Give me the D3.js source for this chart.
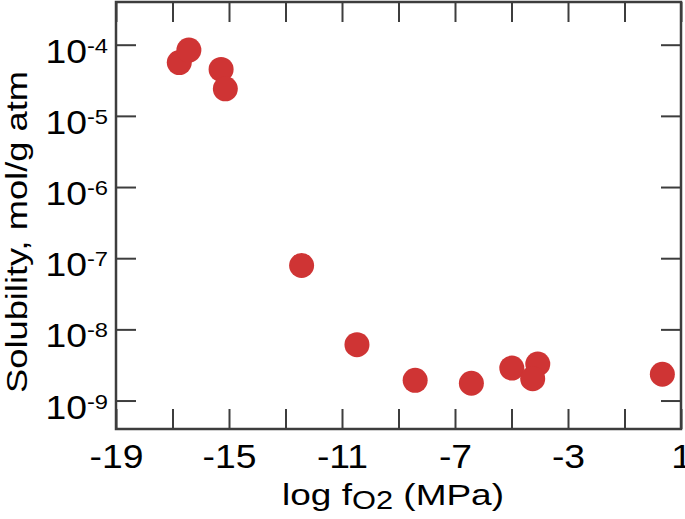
<!DOCTYPE html>
<html>
<head>
<meta charset="utf-8">
<script src="https://cdn.jsdelivr.net/npm/d3@7"></script>
<style>
  html, body { margin: 0; padding: 0; background: #fff; }
  svg { display: block; font-family: "Liberation Sans", Arial, Helvetica, sans-serif; }
</style>
</head>
<body>
<svg id="chart" width="685" height="519"></svg>
<script>
// log fO2 (MPa) vs solubility (mol/g atm)
const logFO2 = [-16.76, -16.42, -15.28, -15.13, -12.43, -10.47, -8.41, -6.42, -4.99, -4.07, -4.25, 0.34];
const solubility = [5.6e-5, 8.4e-5, 4.5e-5, 2.4e-5, 7.9e-8, 6.1e-9, 1.92e-9, 1.75e-9, 2.86e-9, 3.26e-9, 2.03e-9, 2.34e-9];

const xTicks = [-19, -17, -15, -13, -11, -9, -7, -5, -3, -1, 1];
const xTickLabels = ['-19', '-15', '-11', '-7', '-3', '1'];
const yExponents = [-9, -8, -7, -6, -5, -4];

const svg = d3.select('#chart');
const frameColor = '#3d3d3d';
const dotColor = '#cf3434';

const x = d3.scaleLinear().domain([-19, 1]).range([116, 681]);
const y = d3.scaleLog().domain([Math.pow(10, -9.4), Math.pow(10, -3.4)]).range([429, 2]);
const yTicks = yExponents.map(e => Math.pow(10, e));

// stretch text horizontally a bit, like the source figure
function stretch(sel, k) {
  sel.each(function () {
    const w = this.getComputedTextLength();
    d3.select(this).attr('textLength', w * k).attr('lengthAdjust', 'spacingAndGlyphs');
  });
}

// points
svg.append('g')
  .selectAll('circle')
  .data(logFO2.map((v, i) => [v, solubility[i]]))
  .join('circle')
  .attr('cx', d => x(d[0]))
  .attr('cy', d => y(d[1]))
  .attr('r', 12.5)
  .attr('fill', dotColor);

// bottom axis (ticks inward)
const gx = svg.append('g')
  .attr('transform', `translate(0,${y.range()[0]})`)
  .call(d3.axisBottom(x).tickValues(xTicks).tickSize(-20).tickSizeOuter(0)
    .tickFormat(d => xTickLabels.includes(String(d)) ? String(d) : ''));

// top axis
const gxTop = svg.append('g')
  .attr('transform', `translate(0,${y.range()[1]})`)
  .call(d3.axisTop(x).tickValues(xTicks).tickSize(-20).tickSizeOuter(0).tickFormat(''));

// left axis
const gy = svg.append('g')
  .attr('transform', `translate(${x.range()[0]},0)`)
  .call(d3.axisLeft(y).tickValues(yTicks).tickSize(-20).tickSizeOuter(0).tickFormat(() => ''));

// right axis
const gyRight = svg.append('g')
  .attr('transform', `translate(${x.range()[1]},0)`)
  .call(d3.axisRight(y).tickValues(yTicks).tickSize(-20).tickSizeOuter(0).tickFormat(''));

[gx, gxTop, gy, gyRight].forEach(g => {
  g.select('.domain').remove();
  g.selectAll('.tick line').attr('stroke', frameColor).attr('stroke-width', 2);
});

// frame
svg.append('rect')
  .attr('x', x.range()[0])
  .attr('y', y.range()[1])
  .attr('width', x.range()[1] - x.range()[0])
  .attr('height', y.range()[0] - y.range()[1])
  .attr('fill', 'none')
  .attr('stroke', frameColor)
  .attr('stroke-width', 2.5);

// x tick labels
gx.selectAll('.tick text')
  .attr('y', 39)
  .attr('dy', 0)
  .attr('fill', '#000')
  .attr('font-size', 33)
  .attr('font-family', '"Liberation Sans", Arial, sans-serif');
stretch(gx.selectAll('.tick text').filter(function () { return this.textContent !== ''; }), 1.13);

// y tick labels: 10^n
gy.selectAll('.tick text')
  .attr('x', -8)
  .attr('y', 17.5)
  .attr('dy', 0)
  .attr('fill', '#000')
  .attr('font-size', 33)
  .attr('font-family', '"Liberation Sans", Arial, sans-serif')
  .each(function (d, i) {
    const t = d3.select(this).text(null);
    t.append('tspan').text('10');
    t.append('tspan').attr('dy', -10).attr('font-size', 21).text(String(yExponents[i]));
  });
stretch(gy.selectAll('.tick text'), 1.13);

// x title
const xt = svg.append('text')
  .attr('x', 393)
  .attr('y', 504.5)
  .attr('text-anchor', 'middle')
  .attr('font-size', 30)
  .attr('fill', '#000');
xt.append('tspan').text('log f');
xt.append('tspan').attr('font-size', 25).attr('dy', 4).text('O2');
xt.append('tspan').attr('dy', -4).text(' (MPa)');
xt.attr('textLength', 222).attr('lengthAdjust', 'spacingAndGlyphs');

// y title
svg.append('text')
  .attr('transform', 'translate(27,232) rotate(-90)')
  .attr('text-anchor', 'middle')
  .attr('font-size', 30)
  .attr('fill', '#000')
  .attr('textLength', 322)
  .attr('lengthAdjust', 'spacingAndGlyphs')
  .text('Solubility, mol/g atm');
</script>
</body>
</html>
